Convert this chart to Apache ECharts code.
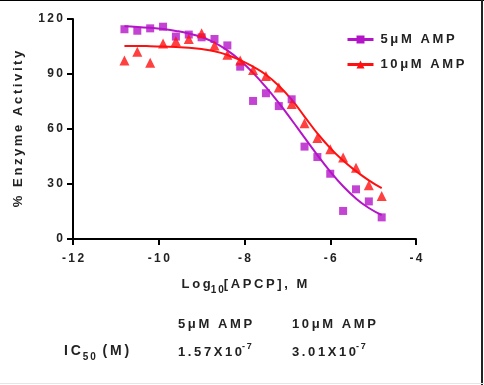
<!DOCTYPE html>
<html>
<head>
<meta charset="utf-8">
<script src="https://cdn.jsdelivr.net/npm/echarts@6/dist/echarts.min.js"></script>
<style>
html,body{margin:0;padding:0;background:#fff;}
#c{width:484px;height:385px;}
</style>
</head>
<body>
<div id="c"></div>
<script>
// ---- data ----
var logConc = [-10.8,-10.5,-10.2,-9.9,-9.6,-9.3,-9.0,-8.7,-8.4,-8.1,-7.8,-7.5,-7.2,-6.9,-6.6,-6.3,-6.0,-5.7,-5.4,-5.1,-4.8];
var amp5 = [114.4,113.6,114.9,115.8,110.4,111.5,110.0,109.1,105.6,94.0,75.3,79.5,72.5,76.2,50.4,44.7,35.6,15.3,27.1,20.5,11.8];
var amp10 = [97.3,102.2,96.2,106.7,107.8,109.1,112.2,105.5,100.5,97.3,92.2,88.9,82.7,73.6,63.1,55.1,48.9,44.4,38.9,29.3,23.5];
// fitted curves
var fit5 = [116,115.7,115.2,114.5,113.5,112.1,110.1,107.1,102.9,97.4,90.6,82.8,74.2,64.9,55.3,45.8,36.8,28.8,22.1,16.9,13.1];
var fit10 = [105.3,105.3,105.2,105.0,104.7,104.3,103.6,102.4,100.4,97.6,94.0,89.6,83.6,76.0,66.8,57.6,49.6,42.8,37.0,32.0,27.7];
var seriesNames = ['5μM AMP','10μM AMP'];
var ic50Labels = ['1.57X10', '3.01X10'];
var ic50Exp = '-7';
var xTicks = {min:-12, max:-4, interval:2};
var yTicks = {min:0, max:120, interval:30};

function sp(s){ return String(s).split('').join('\u2009'); }
function pairs(xs, ys){ return xs.map(function(x,i){ return [x, ys[i]]; }); }

var PURPLE = '#B414C8', RED = '#FF1010', TXT = '#222';
var FONT = '"Liberation Sans", Arial, sans-serif';

var chart = echarts.init(document.getElementById('c'));
chart.setOption({
  animation: false,
  backgroundColor: '#fff',
  grid: {left: 73, top: 19, right: 68, bottom: 146},
  xAxis: {
    type: 'value', min: xTicks.min, max: xTicks.max, interval: xTicks.interval,
    axisLine: {lineStyle: {color: '#000', width: 2}},
    axisTick: {show: true, length: 6, lineStyle: {color: '#000', width: 2}},
    splitLine: {show: false},
    axisLabel: {color: TXT, fontFamily: FONT, fontWeight: 'bold', fontSize: 12, margin: 14,
      formatter: function(v){ return sp(v); }},
    name: '{a|' + sp('Log') + '}{s|' + sp('10') + '}{a|' + sp('[APCP], M') + '}',
    nameLocation: 'middle', nameGap: 36,
    nameTextStyle: {rich: {
      a: {color: TXT, fontFamily: FONT, fontWeight: 'bold', fontSize: 13, verticalAlign: 'bottom', lineHeight: 16},
      s: {color: TXT, fontFamily: FONT, fontWeight: 'bold', fontSize: 10, verticalAlign: 'bottom', lineHeight: 12, padding: [0,0,-4,0]}
    }}
  },
  yAxis: {
    type: 'value', min: yTicks.min, max: yTicks.max, interval: yTicks.interval,
    axisLine: {show: true, lineStyle: {color: '#000', width: 2}},
    axisTick: {show: true, length: 6, lineStyle: {color: '#000', width: 2}},
    splitLine: {show: false},
    axisLabel: {color: TXT, fontFamily: FONT, fontWeight: 'bold', fontSize: 12, margin: 10,
      formatter: function(v){ return sp(v); }},
    name: sp('% Enzyme Activity'), nameLocation: 'middle', nameGap: 48,
    nameTextStyle: {color: TXT, fontFamily: FONT, fontWeight: 'bold', fontSize: 13}
  },
  legend: {
    orient: 'vertical', left: 341, top: 28, itemGap: 12,
    itemWidth: 26, itemHeight: 10,
    data: seriesNames,
    lineStyle: {width: 3},
    formatter: function(n){ return sp(n); },
    textStyle: {color: TXT, fontFamily: FONT, fontWeight: 'bold', fontSize: 13, padding: [0,0,0,2]}
  },
  series: [
    {name: seriesNames[0], type: 'line', smooth: true, showSymbol: false, symbol: 'rect', symbolSize: 9,
     data: pairs(logConc, fit5), lineStyle: {color: PURPLE, width: 2}, itemStyle: {color: PURPLE}, z: 2},
    {name: seriesNames[1], type: 'line', smooth: true, showSymbol: false, symbol: 'triangle', symbolSize: 10,
     data: pairs(logConc, fit10), lineStyle: {color: RED, width: 2}, itemStyle: {color: RED}, z: 2},
    {name: seriesNames[0], type: 'scatter', symbol: 'rect', symbolSize: 8,
     data: pairs(logConc, amp5), itemStyle: {color: PURPLE}, z: 3},
    {name: seriesNames[1], type: 'scatter', symbol: 'triangle', symbolSize: 10,
     data: pairs(logConc, amp10), itemStyle: {color: RED}, z: 3}
  ],
  graphic: [
    {type: 'rect', shape: {x: 0, y: 0, width: 484, height: 1}, style: {fill: '#000'}},
    {type: 'rect', shape: {x: 481, y: 0, width: 2, height: 385}, style: {fill: '#222'}},
    {type: 'rect', shape: {x: 0, y: 383, width: 484, height: 1}, style: {fill: '#e6e6e6'}},
    {type: 'text', left: 178, top: 318, style: {text: sp(seriesNames[0]), fill: TXT, font: 'bold 13px ' + FONT}},
    {type: 'text', left: 292, top: 318, style: {text: sp(seriesNames[1]), fill: TXT, font: 'bold 13px ' + FONT}},
    {type: 'text', left: 64, top: 344, style: {
      text: '{a|' + sp('IC') + '}{s|' + '\u2009' + sp('50') + '}{a|' + '\u2009 ' + sp('(M)') + '}',
      rich: {
        a: {fill: TXT, font: 'bold 14px ' + FONT, verticalAlign: 'bottom', lineHeight: 18},
        s: {fill: TXT, font: 'bold 10px ' + FONT, verticalAlign: 'bottom', lineHeight: 14, padding: [0,0,-4,0]}
      }}},
    {type: 'text', left: 178, top: 342, style: {
      text: '{a|' + sp(ic50Labels[0]) + '}{e|' + sp(ic50Exp) + '}',
      rich: {
        a: {fill: TXT, font: 'bold 13px ' + FONT, verticalAlign: 'bottom', lineHeight: 20},
        e: {fill: TXT, font: 'bold 9px ' + FONT, verticalAlign: 'bottom', lineHeight: 20, padding: [0,0,8,0]}
      }}},
    {type: 'text', left: 292, top: 342, style: {
      text: '{a|' + sp(ic50Labels[1]) + '}{e|' + sp(ic50Exp) + '}',
      rich: {
        a: {fill: TXT, font: 'bold 13px ' + FONT, verticalAlign: 'bottom', lineHeight: 20},
        e: {fill: TXT, font: 'bold 9px ' + FONT, verticalAlign: 'bottom', lineHeight: 20, padding: [0,0,8,0]}
      }}}
  ]
});
</script>
</body>
</html>
